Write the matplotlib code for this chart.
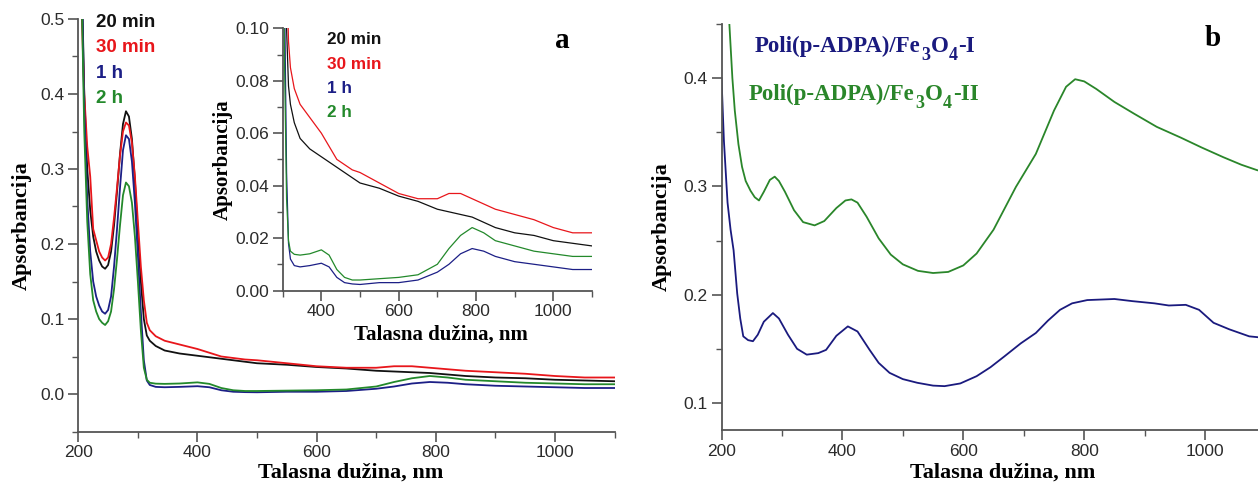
import matplotlib
matplotlib.use("Agg")
import matplotlib.pyplot as plt
from matplotlib.ticker import MultipleLocator, FormatStrFormatter

# ---- panel a: UV-Vis spectra recorded at different times ----
wl_a = [200, 203, 206, 210, 215, 220, 225, 230, 235, 240, 245, 250, 255, 260,
        265, 270, 275, 280, 285, 290, 295, 300, 305, 310, 315, 320, 330, 345,
        370, 400, 420, 440, 460, 480, 500, 550, 600, 650, 700, 730, 760, 790,
        820, 850, 900, 950, 1000, 1050, 1100]

abs_20min = [0.95, 0.75, 0.55, 0.40, 0.30, 0.245, 0.21, 0.19, 0.178, 0.17, 0.167,
             0.172, 0.19, 0.225, 0.27, 0.32, 0.36, 0.377, 0.37, 0.34, 0.285, 0.215,
             0.15, 0.10, 0.078, 0.071, 0.064, 0.058, 0.054, 0.051, 0.049, 0.047,
             0.045, 0.043, 0.041, 0.039, 0.036, 0.034, 0.031, 0.030, 0.029, 0.028,
             0.026, 0.024, 0.022, 0.021, 0.019, 0.018, 0.017]
abs_30min = [0.95, 0.8, 0.5, 0.40, 0.33, 0.29, 0.22, 0.205, 0.19, 0.182, 0.178,
             0.182, 0.20, 0.235, 0.275, 0.318, 0.35, 0.362, 0.358, 0.335, 0.29, 0.23,
             0.17, 0.125, 0.095, 0.085, 0.077, 0.071, 0.066, 0.060, 0.055, 0.050,
             0.048, 0.046, 0.045, 0.041, 0.037, 0.035, 0.035, 0.037, 0.037, 0.035,
             0.033, 0.031, 0.029, 0.027, 0.024, 0.022, 0.022]
abs_1h = [0.95, 0.75, 0.55, 0.38, 0.26, 0.19, 0.15, 0.13, 0.118, 0.11, 0.107,
          0.112, 0.13, 0.17, 0.22, 0.275, 0.325, 0.345, 0.34, 0.31, 0.255, 0.185,
          0.11, 0.045, 0.018, 0.012, 0.0095, 0.009, 0.0095, 0.0104, 0.009, 0.005,
          0.003, 0.0025, 0.0023, 0.003, 0.003, 0.004, 0.007, 0.010, 0.014, 0.016,
          0.015, 0.013, 0.011, 0.010, 0.009, 0.008, 0.008]
abs_2h = [0.95, 0.75, 0.52, 0.35, 0.23, 0.16, 0.125, 0.11, 0.10, 0.095, 0.092,
          0.097, 0.11, 0.14, 0.18, 0.225, 0.265, 0.282, 0.277, 0.255, 0.21, 0.15,
          0.085, 0.035, 0.019, 0.015, 0.0138, 0.0135, 0.014, 0.0155, 0.0135, 0.008,
          0.005, 0.004, 0.004, 0.0045, 0.005, 0.006, 0.010, 0.016, 0.021, 0.024,
          0.022, 0.019, 0.017, 0.015, 0.014, 0.013, 0.013]

labels_a = ["20 min", "30 min", "1 h", "2 h"]
colors_a = ["#111111", "#e8161b", "#1c1f86", "#23892b"]

# ---- panel b: two composite samples ----
wl_I = [200, 204, 210, 215, 220, 226, 231, 236, 244, 252, 260, 270, 285, 295,
        310, 325, 341, 360, 373, 390, 409, 425, 445, 460, 478, 500, 524, 550,
        569, 595, 622, 645, 668, 695, 720, 740, 760, 780, 805, 850, 880, 916,
        940, 968, 990, 1014, 1040, 1073, 1100]
abs_I = [0.40, 0.342, 0.285, 0.26, 0.241, 0.201, 0.178, 0.1615, 0.158, 0.157,
         0.163, 0.175, 0.183, 0.178, 0.163, 0.15, 0.1446, 0.146, 0.149, 0.162,
         0.1707, 0.166, 0.149, 0.137, 0.1278, 0.122, 0.1186, 0.116, 0.1155, 0.118,
         0.1247, 0.133, 0.143, 0.155, 0.1646, 0.176, 0.186, 0.192, 0.195, 0.196,
         0.194, 0.192, 0.190, 0.1906, 0.186, 0.174, 0.168, 0.1615, 0.160]

wl_II = [200, 205, 210, 213, 218, 222, 228, 234, 240, 248, 255, 262, 270, 280,
         288, 295, 305, 320, 335, 354, 370, 390, 405, 415, 425, 440, 460, 480,
         500, 525, 550, 575, 600, 622, 650, 687, 720, 750, 770, 785, 800, 820,
         850, 883, 920, 960, 994, 1030, 1060, 1086, 1100]
abs_II = [0.62, 0.55, 0.48, 0.45, 0.40, 0.37, 0.339, 0.318, 0.305, 0.296, 0.29,
          0.287, 0.295, 0.306, 0.309, 0.305, 0.295, 0.278, 0.267, 0.264, 0.268,
          0.28, 0.287, 0.288, 0.285, 0.272, 0.252, 0.237, 0.228, 0.222, 0.220,
          0.221, 0.227, 0.238, 0.26, 0.2995, 0.33, 0.37, 0.392, 0.399, 0.397,
          0.39, 0.378, 0.367, 0.355, 0.345, 0.336, 0.327, 0.320, 0.315, 0.313]

# sample names, split into (text, is_subscript) pieces
labels_b = [
    [("Poli(p-ADPA)/Fe", False), ("3", True), ("O", False), ("4", True), ("-I", False)],
    [("Poli(p-ADPA)/Fe", False), ("3", True), ("O", False), ("4", True), ("-II", False)],
]
colors_b = ["#1a1a7e", "#2a862a"]

SANS = "Liberation Sans"
SERIF = "Liberation Serif"
TICK_COLOR = "#2b2b2b"
SPINE_COLOR = "#555555"


def style_axes(ax, xmajor, xminor, ymajor, yminor, fs, yfmt):
    for side in ("top", "right"):
        ax.spines[side].set_visible(False)
    for side in ("left", "bottom"):
        ax.spines[side].set_color(SPINE_COLOR)
        ax.spines[side].set_linewidth(1.3)
    ax.xaxis.set_major_locator(MultipleLocator(xmajor))
    ax.xaxis.set_minor_locator(MultipleLocator(xminor))
    ax.yaxis.set_major_locator(MultipleLocator(ymajor))
    ax.yaxis.set_minor_locator(MultipleLocator(yminor))
    ax.yaxis.set_major_formatter(FormatStrFormatter(yfmt))
    ax.tick_params(which="major", direction="out", length=7, width=1.2,
                   color=SPINE_COLOR, labelsize=fs, labelcolor=TICK_COLOR, pad=3)
    ax.tick_params(which="minor", direction="out", length=4, width=1.0,
                   color=SPINE_COLOR)
    for lab in ax.get_xticklabels() + ax.get_yticklabels():
        lab.set_family(SANS)


fig = plt.figure(figsize=(12.58, 4.86), dpi=100)
W, H = 1258.0, 486.0


def px_axes(left, top, right, bottom):
    return fig.add_axes([left / W, 1 - bottom / H, (right - left) / W, (bottom - top) / H])


# main panel a
ax_a = px_axes(78.3, 19.0, 614.5, 431.5)
series_a = [abs_20min, abs_30min, abs_1h, abs_2h]
for vals, col in zip(series_a, colors_a):
    ax_a.plot(wl_a, vals, color=col, lw=1.3)
ax_a.set_xlim(200, 1100)
ax_a.set_ylim(-0.05, 0.5)
style_axes(ax_a, 200, 100, 0.1, 0.05, 12.5, "%.1f")
ax_a.set_xlabel("Talasna dužina, nm", family=SERIF, weight="bold", fontsize=16, va="center")
ax_a.xaxis.set_label_coords(0.5086, (431.5 - 473) / 412.5)
ax_a.set_ylabel("Apsorbancija", family=SERIF, weight="bold", fontsize=16, va="center")
ax_a.yaxis.set_label_coords((22 - 78.3) / 536.2, 0.5)

for i, (lab, col) in enumerate(zip(labels_a, colors_a)):
    fig.text(96 / W, 1 - (22.7 + 25.2 * i) / H, lab, color=col, family=SANS,
             weight="bold", fontsize=13.5, va="center", ha="left")

fig.text(562 / W, 1 - 40 / H, "a", family=SERIF, weight="bold", fontsize=21,
         ha="center", va="center")

# inset of panel a
ax_in = px_axes(282.7, 28.3, 592.0, 290.5)
for vals, col in zip(series_a, colors_a):
    ax_in.plot(wl_a, vals, color=col, lw=0.9)
ax_in.set_xlim(300, 1100)
ax_in.set_ylim(0.0, 0.10)
style_axes(ax_in, 200, 100, 0.02, 0.01, 12.5, "%.2f")
ax_in.set_xlabel("Talasna dužina, nm", family=SERIF, weight="bold", fontsize=15, va="center")
ax_in.xaxis.set_label_coords((441 - 282.7) / 309.3, (290.5 - 335) / 262.2)
ax_in.set_ylabel("Apsorbancija", family=SERIF, weight="bold", fontsize=15, va="center")
ax_in.yaxis.set_label_coords((223 - 282.7) / 309.3, 0.5)
ax_in.patch.set_alpha(0.0)

for i, (lab, col) in enumerate(zip(labels_a, colors_a)):
    fig.text(327 / W, 1 - (40 + 24.3 * i) / H, lab, color=col, family=SANS,
             weight="bold", fontsize=12.3, va="center", ha="left")

# panel b
ax_b = px_axes(721.5, 24.0, 721.5 + 900 * 0.6045, 430.0)
ax_b.plot(wl_I, abs_I, color=colors_b[0], lw=1.3)
ax_b.plot(wl_II, abs_II, color=colors_b[1], lw=1.3)
ax_b.set_xlim(200, 1100)
ax_b.set_ylim(0.075, 0.45)
style_axes(ax_b, 200, 100, 0.1, 0.05, 12.5, "%.1f")
ax_b.set_xlabel("Talasna dužina, nm", family=SERIF, weight="bold", fontsize=16, va="center")
ax_b.xaxis.set_label_coords((1003 - 721.5) / 544.0, (430 - 473) / 406.0)
ax_b.set_ylabel("Apsorbancija", family=SERIF, weight="bold", fontsize=16, va="center")
ax_b.yaxis.set_label_coords((662 - 721.5) / 544.0, 0.5)

# sample names with enlarged, dropped subscripts
renderer = fig.canvas.get_renderer()
MAIN_FS, SUB_FS, SUB_DROP = 16.5, 13.0, 8.0
for i, (pieces, col) in enumerate(zip(labels_b, colors_b)):
    x_px = 755.0 - 6 * i
    base_px = 52.0 + 48 * i
    for txt, is_sub in pieces:
        y_px = base_px + (SUB_DROP if is_sub else 0.0)
        t = fig.text(x_px / W, 1 - y_px / H, txt, color=col, family=SERIF,
                     weight="bold", fontsize=SUB_FS if is_sub else MAIN_FS,
                     va="baseline", ha="left")
        x_px = t.get_window_extent(renderer).x1 + 0.5

fig.text(1213 / W, 1 - 38 / H, "b", family=SERIF, weight="bold", fontsize=21,
         ha="center", va="center")

fig.savefig("out.png", dpi=100)
